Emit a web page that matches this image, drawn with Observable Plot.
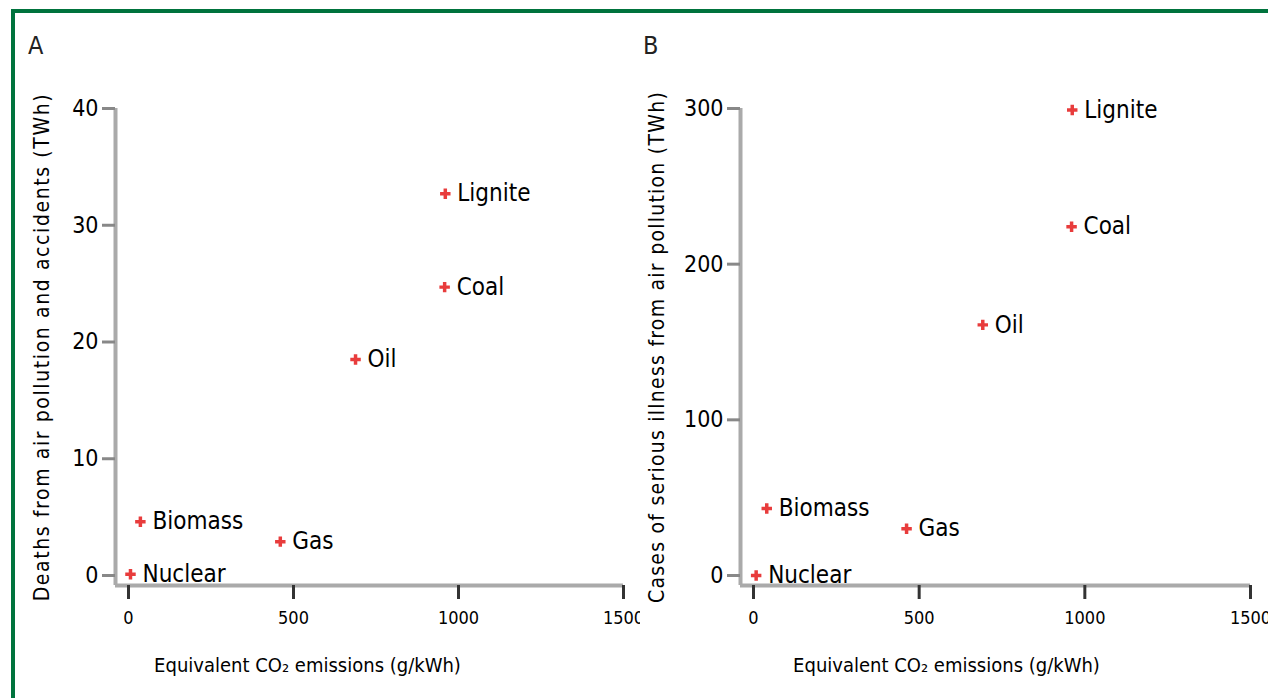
<!DOCTYPE html>
<html>
<head>
<meta charset="utf-8">
<script src="https://cdn.jsdelivr.net/npm/d3@7"></script>
<script src="https://cdn.jsdelivr.net/npm/@observablehq/plot@0.6"></script>
<style>
  html, body { margin: 0; padding: 0; background: #fff; overflow: hidden; }
  body { width: 1268px; height: 698px; position: relative; font-family: "DejaVu Sans Condensed", "Liberation Sans Narrow", "DejaVu Sans", sans-serif; font-stretch: condensed; }
  #border { position: absolute; left: 11px; top: 9px; width: 1400px; height: 800px; border-top: 4px solid #00733d; border-left: 4px solid #00733d; }
  .panel { position: absolute; top: 0; overflow: hidden; }
  .letter { position: absolute; top: 31px; font-size: 25px; color: #222; }
</style>
</head>
<body>
<div id="border"></div>
<div id="pa" class="panel" style="left:0;width:640px;height:698px"></div>
<div id="pb" class="panel" style="left:640px;width:628px;height:698px"></div>
<div class="letter" style="left:28px">A</div>
<div class="letter" style="left:643px">B</div>
<script>
const sources = ["Lignite", "Coal", "Oil", "Gas", "Biomass", "Nuclear"];
const co2A = [960, 958, 688, 460, 36, 6];
const deaths = [32.7, 24.7, 18.5, 2.9, 4.6, 0.1];
const co2B = [962, 960, 692, 462, 40, 8];
const illness = [299, 224, 161, 30, 43, 0];
const xTicks = [0, 500, 1000, 1500];
const yTicksA = [0, 10, 20, 30, 40];
const yTicksB = [0, 100, 200, 300];
const xLabel = "Equivalent CO\u2082 emissions (g/kWh)";
const yLabelA = "Deaths from air pollution and accidents (TWh)";
const yLabelB = "Cases of serious illness from air pollution (TWh)";

const font = '"DejaVu Sans Condensed", "Liberation Sans Narrow", "DejaVu Sans", sans-serif';

function panel({width, marginLeft, marginRight, xs, ys, yTicks, yMax, yLabel, yLabelDx, xLabelDx}) {
  const data = sources.map((s, i) => ({source: s, x: xs[i], y: ys[i]}));
  return Plot.plot({
    width, height: 698,
    marginLeft, marginRight, marginTop: 108, marginBottom: 113,
    style: {fontFamily: font, fontSize: "17px", color: "#000", background: "transparent"},
    x: {domain: [0, 1500], insetLeft: 13, insetRight: 0},
    y: {domain: [0, yMax], insetBottom: 10, insetTop: 0},
    marks: [
      Plot.ruleX([0], {dx: -13, stroke: "#aaaaaa", strokeWidth: 4}),
      Plot.ruleY([0], {dy: 10, stroke: "#aaaaaa", strokeWidth: 4}),
      Plot.axisX({ticks: xTicks, tickSize: 14, tickPadding: 12, tickFormat: d => String(d), stroke: "#333", strokeWidth: 3, fontSize: 18, label: null}),
      Plot.axisY({ticks: yTicks, tickSize: 13, tickPadding: 4, tickFormat: d => String(d), stroke: "#888", strokeWidth: 3, fontSize: 23, label: null}),
      Plot.text([xLabel], {frameAnchor: "bottom", dy: 80, dx: xLabelDx, fontSize: 20, fill: "#000", textAnchor: "middle", lineAnchor: "middle"}),
      Plot.text([yLabel], {frameAnchor: "left", rotate: -90, dx: yLabelDx, fontSize: 21, fill: "#000", textAnchor: "middle", lineAnchor: "middle"}),
      Plot.dot(data, {x: "x", y: "y", symbol: "cross", r: 4.4, fill: "#e83c3c", stroke: "none"}),
      Plot.text(data, {x: "x", y: "y", text: "source", dx: 12, textAnchor: "start", lineAnchor: "middle", fontSize: 24, fill: "#000"})
    ]
  });
}

document.getElementById("pa").append(panel({
  width: 640, marginLeft: 115, marginRight: 17,
  xs: co2A, ys: deaths, yTicks: yTicksA, yMax: 40,
  yLabel: yLabelA, yLabelDx: -73, xLabelDx: -62
}));
document.getElementById("pb").append(panel({
  width: 628, marginLeft: 100, marginRight: 18,
  xs: co2B, ys: illness, yTicks: yTicksB, yMax: 300,
  yLabel: yLabelB, yLabelDx: -83, xLabelDx: -49
}));
// letter spacing on the rotated axis titles
d3.selectAll("svg text").each(function() {
  const t = this.textContent;
  if (t === yLabelA) this.style.letterSpacing = "1.6px";
  if (t === yLabelB) this.style.letterSpacing = "1.25px";
});
</script>
</body>
</html>
